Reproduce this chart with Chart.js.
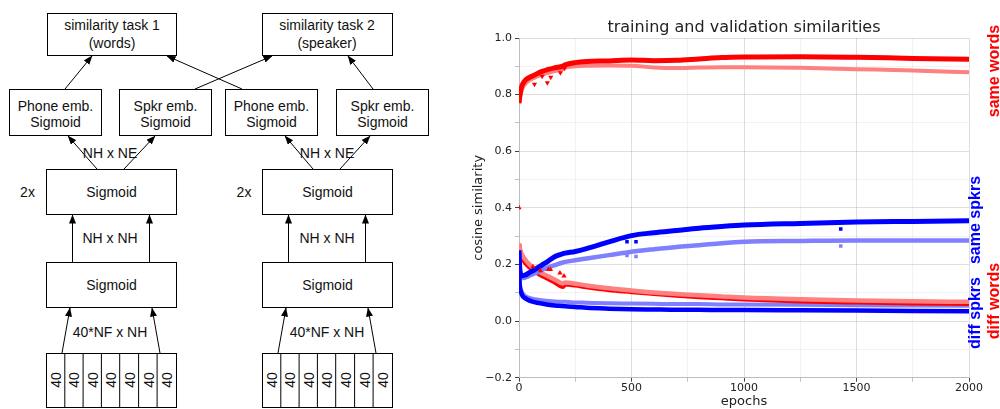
<!DOCTYPE html>
<html><head><meta charset="utf-8">
<script src="https://cdn.jsdelivr.net/npm/chart.js@4.4.0/dist/chart.umd.min.js"></script>
<style>
html,body{margin:0;padding:0;background:#fff;}
body{width:1000px;height:409px;overflow:hidden;position:relative;}
#diagram{position:absolute;left:0;top:0;}
#wrap{position:absolute;left:460px;top:0;width:540px;height:409px;}
.side{position:absolute;width:140px;height:20px;line-height:20px;text-align:center;font:bold 16px "Liberation Sans",Arial,sans-serif;transform:rotate(-90deg);white-space:nowrap;}
</style></head><body>
<svg id="diagram" width="460" height="409" xmlns="http://www.w3.org/2000/svg" font-family="Liberation Sans, Arial, sans-serif" font-size="14" fill="#111">
<defs><marker id="ah" markerWidth="9" markerHeight="7" refX="8.5" refY="3.5" orient="auto" markerUnits="userSpaceOnUse"><path d="M0,0 L9,3.5 L0,7 z" fill="#000"/></marker></defs>
<g fill="#fff" stroke="#000" stroke-width="1">
<rect x="47.5" y="13.5" width="129" height="42"/>
<rect x="262.5" y="13.5" width="130" height="42"/>
<rect x="9.5" y="89.5" width="92" height="46"/>
<rect x="119.5" y="89.5" width="92" height="46"/>
<rect x="225.5" y="89.5" width="92" height="46"/>
<rect x="336.5" y="89.5" width="92" height="46"/>
<rect x="46.5" y="169.5" width="130" height="45"/>
<rect x="46.5" y="262.5" width="130" height="45"/>
<rect x="46.5" y="353.5" width="130" height="54"/>
<rect x="262.5" y="169.5" width="130" height="45"/>
<rect x="262.5" y="262.5" width="130" height="45"/>
<rect x="262.5" y="353.5" width="130" height="54"/>
</g>
<g stroke="#000" stroke-width="1">
<line x1="64.8" y1="353.5" x2="64.8" y2="407.5"/><line x1="83.1" y1="353.5" x2="83.1" y2="407.5"/><line x1="101.4" y1="353.5" x2="101.4" y2="407.5"/><line x1="119.7" y1="353.5" x2="119.7" y2="407.5"/><line x1="138.6" y1="353.5" x2="138.6" y2="407.5"/><line x1="157.1" y1="353.5" x2="157.1" y2="407.5"/>
<line x1="280.8" y1="353.5" x2="280.8" y2="407.5"/><line x1="299.1" y1="353.5" x2="299.1" y2="407.5"/><line x1="317.4" y1="353.5" x2="317.4" y2="407.5"/><line x1="335.7" y1="353.5" x2="335.7" y2="407.5"/><line x1="354.6" y1="353.5" x2="354.6" y2="407.5"/><line x1="373.1" y1="353.5" x2="373.1" y2="407.5"/>
</g>
<g stroke="#000" stroke-width="1" marker-end="url(#ah)">
<line x1="65" y1="89" x2="92" y2="56"/>
<line x1="195" y1="89" x2="272" y2="56"/>
<line x1="242" y1="89" x2="167" y2="56"/>
<line x1="373" y1="89" x2="348" y2="56"/>
<line x1="97" y1="169" x2="68" y2="136"/>
<line x1="124" y1="169" x2="155" y2="136"/>
<line x1="313" y1="169" x2="285" y2="136"/>
<line x1="340" y1="169" x2="370" y2="136"/>
<line x1="72.5" y1="262" x2="72.5" y2="215"/>
<line x1="149.5" y1="262" x2="149.5" y2="215"/>
<line x1="288.5" y1="262" x2="288.5" y2="215"/>
<line x1="365.5" y1="262" x2="365.5" y2="215"/>
<line x1="62" y1="353" x2="70" y2="308"/>
<line x1="160" y1="353" x2="152" y2="308"/>
<line x1="278" y1="353" x2="286" y2="308"/>
<line x1="376" y1="353" x2="368" y2="308"/>
</g>
<g text-anchor="middle" stroke="none">
<text x="112" y="30">similarity task 1</text><text x="112" y="48">(words)</text>
<text x="327" y="30">similarity task 2</text><text x="327" y="48">(speaker)</text>
<text x="55.5" y="111">Phone emb.</text><text x="55.5" y="127">Sigmoid</text>
<text x="165.5" y="111">Spkr emb.</text><text x="165.5" y="127">Sigmoid</text>
<text x="271.5" y="111">Phone emb.</text><text x="271.5" y="127">Sigmoid</text>
<text x="382.5" y="111">Spkr emb.</text><text x="382.5" y="127">Sigmoid</text>
<text x="110" y="158">NH x NE</text><text x="327" y="158">NH x NE</text>
<text x="111.5" y="197">Sigmoid</text><text x="327.5" y="197">Sigmoid</text>
<text x="27.5" y="197">2x</text><text x="244" y="197">2x</text>
<text x="110" y="243">NH x NH</text><text x="327" y="243">NH x NH</text>
<text x="111.5" y="290">Sigmoid</text><text x="327.5" y="290">Sigmoid</text>
<text x="110" y="337">40*NF x NH</text><text x="327" y="337">40*NF x NH</text>
</g>
<g id="cells" text-anchor="middle" dominant-baseline="central"></g>
</svg>
<div id="wrap"><canvas id="c" width="540" height="409"></canvas></div>
<div class="side" style="left:924.5px;top:61px;color:#ff0000">same words</div>
<div class="side" style="left:906px;top:209.5px;color:#0000ff">same spkrs</div>
<div class="side" style="left:906px;top:302.5px;color:#0000ff">diff spkrs</div>
<div class="side" style="left:924.5px;top:291px;color:#ff0000">diff words</div>
<script>
// ---- diagram input cells (labels) ----
const cellLabels = ['40','40','40','40','40','40','40'];
(function(){
  const g = document.getElementById('cells');
  const lefts = [46.5, 262.5];
  lefts.forEach(l => {
    cellLabels.forEach((t,i) => {
      const cx = l + 18.57*(i+0.5);
      const el = document.createElementNS('http://www.w3.org/2000/svg','text');
      el.setAttribute('transform','translate('+cx+',380) rotate(-90)');
      el.textContent = t;
      g.appendChild(el);
    });
  });
})();

// ---- chart data ----
const epochs = [0, 3, 8, 15, 25, 40, 60, 80, 100, 130, 160, 195, 205, 250, 300, 400, 500, 600, 700, 800, 900, 1000, 1250, 1500, 1750, 2000];
const sameWordsTrain = [0.77, 0.79, 0.815, 0.835, 0.848, 0.858, 0.866, 0.874, 0.881, 0.889, 0.895, 0.901, 0.905, 0.913, 0.917, 0.919, 0.922, 0.920, 0.921, 0.926, 0.931, 0.933, 0.934, 0.932, 0.928, 0.925];
const sameWordsVal   = [0.77, 0.785, 0.805, 0.822, 0.835, 0.847, 0.857, 0.864, 0.870, 0.877, 0.883, 0.890, 0.895, 0.900, 0.902, 0.903, 0.902, 0.896, 0.894, 0.896, 0.897, 0.897, 0.895, 0.890, 0.885, 0.879];
const sameSpkrsTrain = [0.25, 0.19, 0.165, 0.16, 0.162, 0.168, 0.177, 0.187, 0.197, 0.212, 0.228, 0.238, 0.240, 0.246, 0.256, 0.280, 0.302, 0.312, 0.320, 0.328, 0.334, 0.339, 0.345, 0.350, 0.352, 0.354];
const sameSpkrsVal   = [0.24, 0.18, 0.158, 0.152, 0.153, 0.158, 0.165, 0.172, 0.180, 0.190, 0.198, 0.207, 0.209, 0.215, 0.221, 0.233, 0.245, 0.254, 0.262, 0.268, 0.275, 0.280, 0.283, 0.285, 0.285, 0.285];
const diffSpkrsTrain = [0.20, 0.13, 0.105, 0.09, 0.082, 0.075, 0.069, 0.065, 0.062, 0.058, 0.055, 0.053, 0.052, 0.050, 0.047, 0.044, 0.042, 0.041, 0.040, 0.040, 0.039, 0.039, 0.038, 0.037, 0.036, 0.035];
const diffSpkrsVal   = [0.21, 0.14, 0.115, 0.10, 0.090, 0.084, 0.079, 0.076, 0.074, 0.071, 0.069, 0.068, 0.068, 0.066, 0.065, 0.063, 0.062, 0.061, 0.060, 0.060, 0.059, 0.059, 0.058, 0.056, 0.055, 0.054];
const diffWordsTrain = [0.27, 0.25, 0.235, 0.222, 0.21, 0.196, 0.182, 0.171, 0.162, 0.150, 0.137, 0.122, 0.131, 0.127, 0.121, 0.111, 0.104, 0.097, 0.091, 0.086, 0.082, 0.078, 0.071, 0.067, 0.064, 0.062];
const diffWordsVal   = [0.275, 0.26, 0.245, 0.232, 0.22, 0.205, 0.19, 0.18, 0.17, 0.158, 0.146, 0.133, 0.136, 0.132, 0.126, 0.116, 0.108, 0.101, 0.096, 0.091, 0.087, 0.083, 0.077, 0.073, 0.070, 0.068];
// outlier points
const sameWordsDipEpochs = [69, 103, 126, 141, 184, 202];
const sameWordsDipValues = [0.837, 0.865, 0.842, 0.861, 0.877, 0.893];
const diffWordsSpikeEpochs = [0, 62, 95, 130, 140, 182, 200];
const diffWordsSpikeValues = [0.40, 0.192, 0.178, 0.182, 0.182, 0.170, 0.159];
const sameSpkrsOutEpochs = [480, 520, 1430];
const sameSpkrsOutTrain = [0.28, 0.28, 0.325];
const sameSpkrsOutVal = [0.232, 0.228, 0.265];
const xTicks = [0, 500, 1000, 1500, 2000];
const yTicks = [-0.2, 0.0, 0.2, 0.4, 0.6, 0.8, 1.0];

const pts = (xs, ys) => xs.map((x, i) => ({x: x, y: ys[i]}));
const RED = '#ff0000', LRED = '#ff8080', BLUE = '#0000ff', LBLUE = '#8080ff';
const lineDs = (data, color, w, order) => ({data: pts(epochs, data), borderColor: color, backgroundColor: color, borderWidth: w, pointRadius: 0, cubicInterpolationMode: 'monotone', fill: false, order: order});
const dotDs = (xs, ys, color, style, rot, r, order) => ({data: pts(xs, ys), showLine: false, pointStyle: style, rotation: rot, pointRadius: r, pointBorderWidth: 0, pointBackgroundColor: color, pointBorderColor: color, borderColor: color, order: order});

const isMajorY = v => Math.round(v * 10) % 2 === 0;
const isMajorX = v => Math.round(v) % 500 === 0;
const font = (s) => ({family: 'DejaVu Sans', size: s});

new Chart(document.getElementById('c'), {
  type: 'line',
  data: {datasets: [
    dotDs(sameWordsDipEpochs, sameWordsDipValues, RED, 'triangle', 180, 3, 0),
    dotDs(diffWordsSpikeEpochs, diffWordsSpikeValues, RED, 'triangle', 0, 3, 0),
    dotDs(sameSpkrsOutEpochs, sameSpkrsOutTrain, BLUE, 'rect', 0, 2.5, 0),
    dotDs(sameSpkrsOutEpochs, sameSpkrsOutVal, LBLUE, 'rect', 0, 2.5, 0),
    lineDs(sameWordsTrain, RED, 5, 1),
    lineDs(sameWordsVal, LRED, 4, 2),
    lineDs(sameSpkrsTrain, BLUE, 5, 1),
    lineDs(sameSpkrsVal, LBLUE, 4.5, 2),
    lineDs(diffWordsVal, LRED, 4.5, 3),
    lineDs(diffWordsTrain, RED, 5, 4),
    lineDs(diffSpkrsVal, LBLUE, 4, 5),
    lineDs(diffSpkrsTrain, BLUE, 4.5, 1)
  ]},
  options: {
    responsive: false, animation: false, devicePixelRatio: 1,
    layout: {padding: {top: 0, right: 31, bottom: 0, left: 0}},
    plugins: {
      legend: {display: false}, tooltip: {enabled: false},
      title: {display: true, fullSize: false, text: 'training and validation similarities', color: '#222', font: {family: 'DejaVu Sans', size: 16, weight: 'normal'}, padding: {top: 18, bottom: 0.8}}
    },
    scales: {
      x: {
        type: 'linear', min: 0, max: 2000,
        afterFit: s => { s.height = 31.3; },
        ticks: {stepSize: 250, autoSkip: false, maxRotation: 0, padding: 0, color: '#222', font: font(11),
          callback: v => xTicks.includes(Math.round(v)) ? String(Math.round(v)) : ''},
        grid: {color: c => isMajorX(c.tick.value) ? 'rgba(0,0,0,0.13)' : 'rgba(0,0,0,0.05)', lineWidth: 1, tickLength: 4,
          tickColor: c => isMajorX(c.tick.value) ? '#444' : 'rgba(0,0,0,0.25)'},
        border: {color: 'rgba(0,0,0,0.15)'},
        title: {display: true, text: 'epochs', color: '#222', font: font(13), padding: {top: 0, bottom: 0}}
      },
      y: {
        min: -0.2, max: 1.0,
        afterFit: s => { s.width = 59; },
        ticks: {stepSize: 0.1, autoSkip: false, padding: 3, color: '#222', font: font(11),
          callback: v => { const k = Math.round(v * 10); if (k % 2 !== 0) return ''; const t = (Math.abs(k) / 10).toFixed(1); return yTicks.includes(k/10) ? (k < 0 ? '\u2212' + t : t) : ''; }},
        grid: {color: c => isMajorY(c.tick.value) ? 'rgba(0,0,0,0.13)' : 'rgba(0,0,0,0.05)', lineWidth: 1, tickLength: 4,
          tickColor: c => isMajorY(c.tick.value) ? '#444' : 'rgba(0,0,0,0.25)'},
        border: {color: 'rgba(0,0,0,0.15)'},
        title: {display: true, text: 'cosine similarity', color: '#222', font: font(13), padding: {top: 11, bottom: 0}}
      }
    }
  }
});
</script>
</body></html>
